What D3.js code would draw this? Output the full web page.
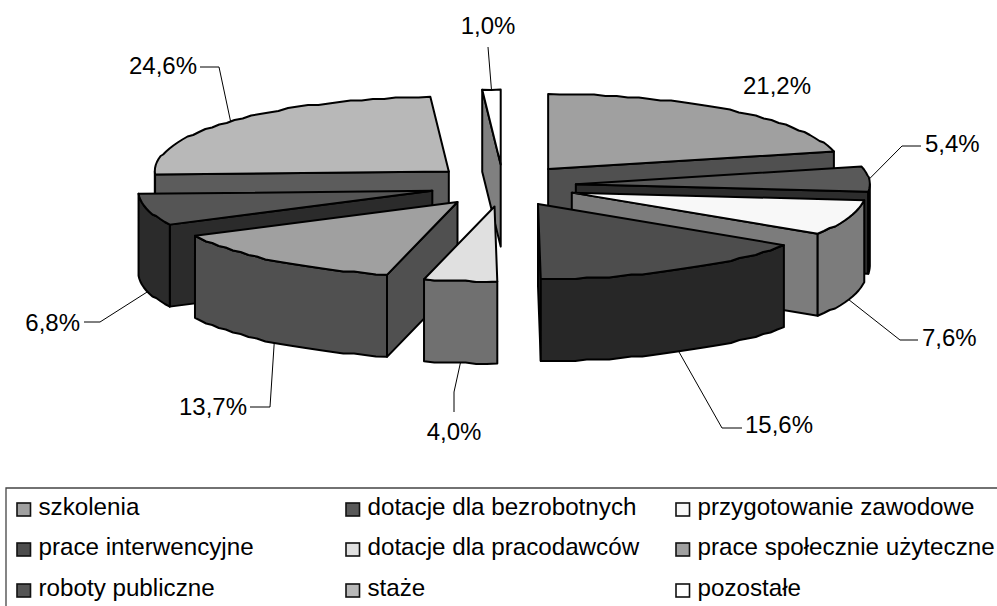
<!DOCTYPE html>
<html><head><meta charset="utf-8">
<script src="https://cdn.jsdelivr.net/npm/d3@7"></script>
<style>html,body{margin:0;padding:0;background:#fff}svg{display:block}text{font-family:"Liberation Sans",Arial,sans-serif;fill:#000}</style>
</head><body><svg id="c" width="997" height="606"></svg>
<script>
const categories=["szkolenia","dotacje dla bezrobotnych","przygotowanie zawodowe","prace interwencyjne","dotacje dla pracodawców","prace społecznie użyteczne","roboty publiczne","staże","pozostałe"];
const values=[21.2,5.4,7.6,15.6,4.0,13.7,6.8,24.6,1.0];
const valueLabels=["21,2%","5,4%","7,6%","15,6%","4,0%","13,7%","6,8%","24,6%","1,0%"];
const topColors=["#a0a0a0","#595959","#f8f8f8","#4d4d4d","#e0e0e0","#a0a0a0","#555555","#b8b8b8","#ffffff"];
const legendOrder=[0,3,6,1,4,7,2,5,8];

// layout
const cx=503,cy=185.6,Rx=294,Ry=75,depth=82,explodeX=73,explodeY=21;
const px=d3.scaleLinear().domain([-1,1]).range([cx-Rx,cx+Rx]);
const py=d3.scaleLinear().domain([-1,1]).range([cy+Ry,cy-Ry]);
const labelLayout=[
 {x:777,y:94,a:"middle"},
 {x:925,y:152,a:"start",elbow:[[902,146],[921,146]]},
 {x:922,y:346,a:"start",elbow:[[900,340],[918,340]]},
 {x:745,y:433,a:"start",elbow:[[722,428],[742,428]]},
 {x:454,y:440,a:"middle",elbow:[[454,392],[454,412]]},
 {x:247,y:415,a:"end",elbow:[[270,407],[250,407]]},
 {x:80,y:331,a:"end",elbow:[[100,322],[84,322]]},
 {x:197,y:74,a:"end",elbow:[[219,67],[200,67]]},
 {x:488,y:34,a:"middle",elbow:[[488,47]]}
];
const svg=d3.select("#c");
const arcs=d3.pie().sort(null).value(d=>d)(values);
const slices=arcs.map((d,i)=>{
  const mid=(d.startAngle+d.endAngle)/2;
  const ox=px(Math.sin(mid)*explodeX/Rx)-cx, oy=py(Math.cos(mid)*explodeY/Ry)-cy;
  const pt=t=>[px(Math.sin(t))+ox,py(Math.cos(t))+oy];
  return {i,a0:d.startAngle,a1:d.endAngle,mid,ox,oy,pt,apex:[cx+ox,cy+oy]};
});
const line=d3.line();
const down=p=>[p[0],p[1]+depth];
// the reference rim is a slightly pixel-stepped outline
function rimPts(s,a,b){
  const n=Math.max(2,Math.ceil((b-a)/0.04));
  return d3.range(n+1).map(k=>{
    const q=s.pt(a+(b-a)*k/n);
    return (k===0||k===n)?q:[q[0],Math.round(q[1]/1.5)*1.5];
  });
}
function wallVisible(A,B,P){
  const ex=B[0]-A[0],ey=B[1]-A[1];
  const c1=ex*depth, c2=ex*(P[1]-A[1])-ey*(P[0]-A[0]);
  return c1*c2<0;
}
const order=slices.slice().sort((a,b)=>a.oy-b.oy);
const g=svg.append("g").attr("stroke","#000").attr("stroke-width",2).attr("stroke-linejoin","round");
order.forEach(s=>{
  const top=d3.rgb(topColors[s.i]);
  const side=d3.rgb(top.r*.5,top.g*.5,top.b*.5).formatHex();
  const A=s.apex,p0=s.pt(s.a0),p1=s.pt(s.a1);
  const wall=(Q,P)=>{ if(wallVisible(A,Q,P)) g.append("path").attr("d",line([A,Q,down(Q),down(A)])+"Z").attr("fill",side); };
  wall(p0,p1); wall(p1,p0);
  const r0=Math.max(s.a0,Math.PI/2), r1=Math.min(s.a1,Math.PI*1.5);
  if(r1>r0){const r=rimPts(s,r0,r1);
    g.append("path").attr("d",line(r.concat(r.slice().reverse().map(down)))+"Z").attr("fill",side);}
  g.append("path").attr("d",line([A].concat(rimPts(s,s.a0,s.a1)))+"Z").attr("fill",top.formatHex());
});
// leaders and labels
const lg=svg.append("g");
slices.forEach(s=>{
  const L=labelLayout[s.i];
  if(L.elbow){
    let r=s.pt(s.mid);
    if(Math.cos(s.mid)<0) r=down(r);
    lg.append("path").attr("d",line([r].concat(L.elbow))).attr("fill","none").attr("stroke","#000").attr("stroke-width",1);
  }
  lg.append("text").attr("x",L.x).attr("y",L.y).attr("text-anchor",L.a).attr("font-size",24).text(valueLabels[s.i]);
});
// legend
const colX=d3.scaleOrdinal().domain([0,1,2]).range([17,346,676]);
const rowY=d3.scaleOrdinal().domain([0,1,2]).range([515,555,596]);
svg.append("path").attr("d","M997,488H6V606").attr("fill","none").attr("stroke","#444").attr("stroke-width",1.3);
legendOrder.forEach((ci,k)=>{
  const col=Math.floor(k/3),row=k%3,x=colX(col),y=rowY(row);
  const gg=svg.append("g");
  gg.append("rect").attr("x",x).attr("y",y-12).attr("width",13.5).attr("height",13).attr("fill",topColors[ci]).attr("stroke","#111").attr("stroke-width",1.6);
  gg.append("text").attr("x",x+21.5).attr("y",y).attr("font-size",24.2).text(categories[ci]);
});
</script></body></html>
